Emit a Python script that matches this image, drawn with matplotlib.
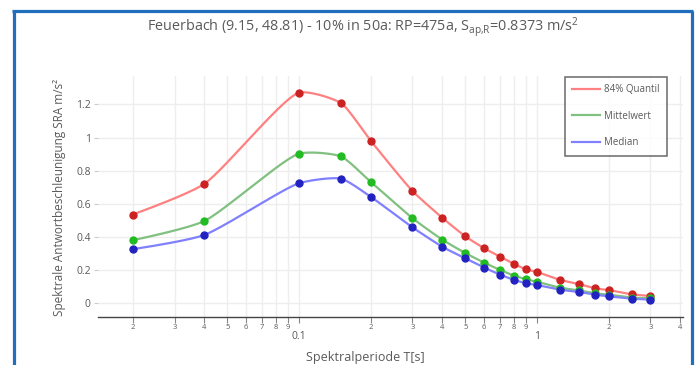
import numpy as np
import matplotlib
matplotlib.use("Agg")
import matplotlib.pyplot as plt
from matplotlib.lines import Line2D
from matplotlib.ticker import FixedLocator, FixedFormatter

# ---------------- data ----------------
periods = [0.02, 0.04, 0.1, 0.15, 0.2, 0.3, 0.4, 0.5, 0.6, 0.7, 0.8, 0.9, 1.0,
           1.25, 1.5, 1.75, 2.0, 2.5, 3.0]
quantil84 = [0.535, 0.72, 1.27, 1.208, 0.981, 0.677, 0.516, 0.404, 0.332, 0.281,
             0.237, 0.205, 0.189, 0.141, 0.116, 0.090, 0.080, 0.054, 0.044]
mittelwert = [0.380, 0.496, 0.902, 0.886, 0.733, 0.513, 0.384, 0.303, 0.245, 0.201,
              0.167, 0.145, 0.130, 0.094, 0.078, 0.060, 0.052, 0.034, 0.030]
median = [0.326, 0.412, 0.724, 0.752, 0.643, 0.458, 0.341, 0.271, 0.215, 0.173,
          0.141, 0.121, 0.110, 0.082, 0.068, 0.052, 0.042, 0.028, 0.022]
series_names = ["84% Quantil", "Mittelwert", "Median"]
y_ticks = [0, 0.2, 0.4, 0.6, 0.8, 1.0, 1.2]
y_ticklabels = ["0", "0.2", "0.4", "0.6", "0.8", "1", "1.2"]
title = (r"Feuerbach (9.15, 48.81) - 10% in 50a: RP=475a, "
         r"S$_\mathregular{ap{,}R}$=0.8373 m/s$^\mathregular{2}$")
xlabel = "Spektralperiode T[s]"
ylabel = "Spektrale Antwortbeschleunigung SRA m/s²"

line_colors = ["#ff8080", "#80c080", "#8080ff"]
marker_colors = ["#cc2222", "#22bb22", "#2222c0"]
text_color = '#5a5a5a'

plt.rcParams['font.family'] = ['Open Sans', 'DejaVu Sans']
plt.rcParams['mathtext.fontset'] = 'custom'
plt.rcParams['mathtext.rm'] = 'Open Sans'
plt.rcParams['mathtext.it'] = 'Open Sans'
plt.rcParams['mathtext.default'] = 'regular'

W, H = 699, 365
fig = plt.figure(figsize=(W / 100, H / 100), dpi=100)

def fx(px):
    return px / W

def fy(py):
    return 1 - py / H

ax_l, ax_r, ax_t, ax_b = 97.8, 683.0, 76.0, 316.7
ax = fig.add_axes([fx(ax_l), fy(ax_b), fx(ax_r) - fx(ax_l), fy(ax_t) - fy(ax_b)])
ax.set_xscale('log')
ax.set_xlim(0.01428, 4.11)
ax.set_ylim(-0.081, 1.371)

for s in ['top', 'right', 'left']:
    ax.spines[s].set_visible(False)
ax.spines['bottom'].set_color('#444444')
ax.spines['bottom'].set_linewidth(1.0)

# x ticks: minor digits and decade labels
minor_vals = []
minor_labels = []
for dec in [0.01, 0.1, 1.0]:
    for d in range(2, 10):
        v = d * dec
        if 0.01428 <= v <= 4.11:
            minor_vals.append(v)
            minor_labels.append(str(d))
major_vals = [0.1, 1.0]
major_labels = ["0.1", "1"]
ax.xaxis.set_major_locator(FixedLocator(major_vals))
ax.xaxis.set_major_formatter(FixedFormatter(major_labels))
ax.xaxis.set_minor_locator(FixedLocator(minor_vals))
ax.xaxis.set_minor_formatter(FixedFormatter(minor_labels))
ax.tick_params(axis='x', which='major', length=4, width=0.8, color='#888888',
               labelsize=7.5, labelcolor=text_color, pad=6.5)
ax.tick_params(axis='x', which='minor', length=4, width=0.8, color='#888888',
               labelsize=5.5, labelcolor=text_color, pad=1.5)
ax.set_yticks(y_ticks)
ax.set_yticklabels(y_ticklabels)
ax.tick_params(axis='y', which='major', length=3, width=0.8, color='#cccccc',
               labelsize=7.5, labelcolor=text_color, pad=2)

ax.grid(True, which='both', axis='x', color='#eeeeee', linewidth=1.0)
ax.grid(True, which='major', axis='y', color='#eeeeee', linewidth=1.0)
ax.set_axisbelow(True)

# plotly-style spline (Catmull-Rom based Bezier) computed in display space
SMOOTH = 0.6

def tangent(p0, p1, p2, smooth=SMOOTH):
    d1 = p0 - p1
    d2 = p2 - p1
    d1a = np.hypot(*d1) ** 0.5
    d2a = np.hypot(*d2) ** 0.5
    num = (d2a * d2a * d1 - d1a * d1a * d2) * smooth
    den1 = 3 * d2a * (d1a + d2a)
    den2 = 3 * d1a * (d1a + d2a)
    return p1 + num / den1, p1 - num / den2

def spline(xs, ys, n=30):
    pts = ax.transData.transform(np.column_stack([xs, ys]))
    tans = [tangent(pts[i - 1], pts[i], pts[i + 1]) for i in range(1, len(pts) - 1)]
    t = np.linspace(0, 1, n)[:, None]
    out = []
    a, c, b = pts[0], tans[0][0], pts[1]
    out.append((1 - t) ** 2 * a + 2 * (1 - t) * t * c + t ** 2 * b)
    for i in range(2, len(pts) - 1):
        p0, c1, c2, p3 = pts[i - 1], tans[i - 2][1], tans[i - 1][0], pts[i]
        out.append((1 - t) ** 3 * p0 + 3 * (1 - t) ** 2 * t * c1
                   + 3 * (1 - t) * t ** 2 * c2 + t ** 3 * p3)
    a, c, b = pts[-2], tans[-1][1], pts[-1]
    out.append((1 - t) ** 2 * a + 2 * (1 - t) * t * c + t ** 2 * b)
    disp = np.vstack(out)
    data = ax.transData.inverted().transform(disp)
    return data[:, 0], data[:, 1]

handles = []
for vals, lc, name in zip([quantil84, mittelwert, median], line_colors, series_names):
    sx, sy = spline(periods, vals)
    ax.plot(sx, sy, color=lc, linewidth=1.6, solid_capstyle='round', zorder=3)
    handles.append(Line2D([], [], color=lc, linewidth=1.6, label=name))
for vals, mc in zip([quantil84, mittelwert, median], marker_colors):
    ax.plot(periods, vals, linestyle='none', marker='o', markersize=5.0,
            markerfacecolor=mc, markeredgecolor=mc, zorder=4)

leg = fig.legend(handles=handles, loc='upper left',
                 bbox_to_anchor=(fx(565), fy(77)), bbox_transform=fig.transFigure,
                 fontsize=7.0, frameon=True, fancybox=False, handlelength=2.8,
                 handletextpad=0.5, labelspacing=1.6, borderpad=0.75,
                 borderaxespad=0)
leg.get_frame().set_edgecolor('#444444')
leg.get_frame().set_linewidth(1.1)
for txt in leg.get_texts():
    txt.set_color(text_color)

fig.text(fx(363), fy(28), title, ha='center', va='center', fontsize=10.4,
         color=text_color)
fig.text(fx(365), fy(357), xlabel, ha='center', va='center', fontsize=9,
         color=text_color)
fig.text(fx(60), fy(197), ylabel, ha='center', va='center', rotation=90,
         fontsize=8.5, color=text_color)

# blue frame around the chart
bc = '#1f6fbd'
blw = 2.3
fig.add_artist(Line2D([fx(13.5), fx(13.5)], [fy(366), fy(10.5)], color=bc,
                      linewidth=blw, transform=fig.transFigure, solid_capstyle='butt'))
fig.add_artist(Line2D([fx(12.3), fx(692.7)], [fy(10.5), fy(10.5)], color=bc,
                      linewidth=blw, transform=fig.transFigure, solid_capstyle='butt'))
fig.add_artist(Line2D([fx(691.5), fx(691.5)], [fy(10.5), fy(366)], color=bc,
                      linewidth=blw, transform=fig.transFigure, solid_capstyle='butt'))

fig.savefig("out.png", dpi=100)
